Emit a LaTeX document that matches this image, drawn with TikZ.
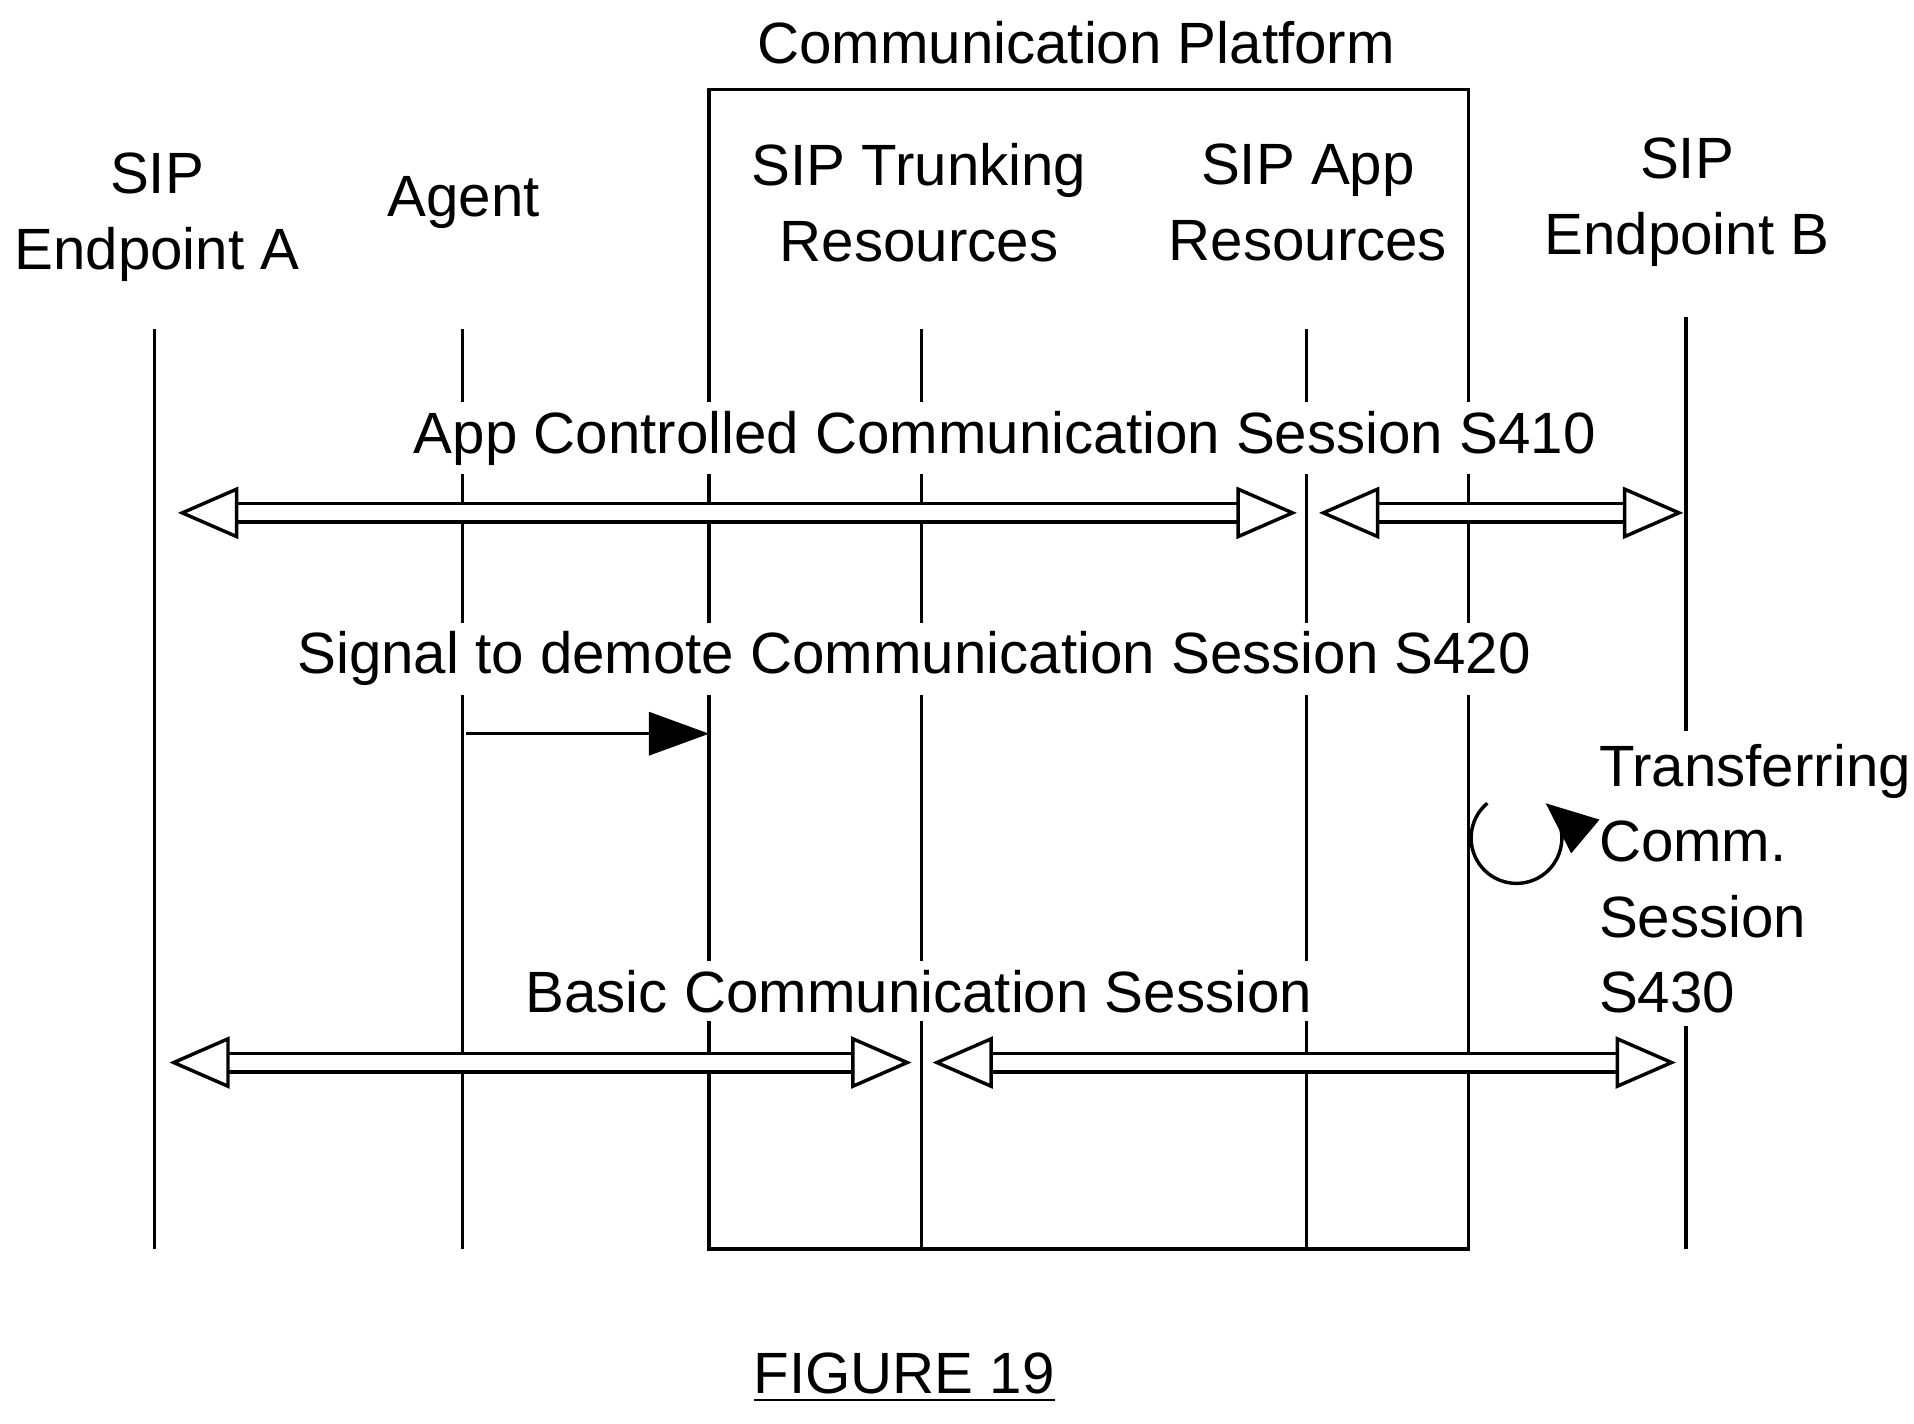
\documentclass[tikz,border=0pt]{standalone}
\usepackage{fontspec}
\setmainfont{Liberation Sans}
\usetikzlibrary{arrows.meta}
\begin{document}
\begin{tikzpicture}[x=0.01cm, y=-0.01cm, font=\fontsize{13.5}{17.5}\selectfont,
  lbl/.style={fill=white, inner sep=2pt, align=center},
  life/.style={thick},
  dbl/.style={double, double distance=3.5pt, thick,
    {Triangle[open,length=14pt,width=12pt]}-{Triangle[open,length=14pt,width=12pt]}}]
\useasboundingbox (0,0) rectangle (1560,1160);

\node (platform) at (877,35) {Communication Platform};
\node[align=center] (epA) at (128,177) {SIP\\Endpoint A};
\node (agent) at (378,165) {Agent};
\node[align=center] (trunk) at (749,165) {SIP Trunking\\Resources};
\node[align=center] (app) at (1066,165) {SIP App\\Resources};
\node[align=center] (epB) at (1375,165) {SIP\\Endpoint B};

\draw[life] (578,1018) -- (578,73) -- (1197,73) -- (1197,1018) -- cycle;
\foreach \n/\x/\t in {a/126/268, g/377/268, t/751/268, p/1065/268, b/1374/258}{
  \coordinate (\n top) at (\x,\t);
  \coordinate (\n bot) at (\x,1018);
  \draw[life] (\n top) -- (\n bot);
}

% S410
\node[lbl] (s410) at (819,357) {App Controlled Communication Session S410};
\coordinate (s410a) at (145,418); \coordinate (s410b) at (1057,418);
\coordinate (s410c) at (1075,418); \coordinate (s410d) at (1372,418);
\draw[dbl] (s410a) -- (s410b);
\draw[dbl] (s410c) -- (s410d);

% S420
\node[lbl] (s420) at (745,537) {Signal to demote Communication Session S420};
\coordinate (sig) at (380,598); \coordinate (plat) at (578,598);
\draw[thick, -{Triangle[length=14pt,width=10pt]}] (sig) -- (plat);

% S430
\node[lbl, align=left, anchor=north west, inner sep=3pt] (s430) at (1292,595)
  {Transferring\\Comm.\\Session\\S430};
\coordinate (loop) at (1236,683);
\draw[thick, -{Triangle[length=12pt,width=10pt]}]
  (loop) ++(-130:37) arc[start angle=-130, end angle=-410, radius=37];

% basic session
\node[lbl] (basic) at (749,808) {Basic Communication Session};
\coordinate (ba) at (138,866); \coordinate (bb) at (743,866);
\coordinate (bc) at (760,866); \coordinate (bd) at (1366,866);
\draw[dbl] (ba) -- (bb);
\draw[dbl] (bc) -- (bd);

\node (fig) at (737,1123) {\underline{FIGURE 19}};
\end{tikzpicture}
\end{document}
